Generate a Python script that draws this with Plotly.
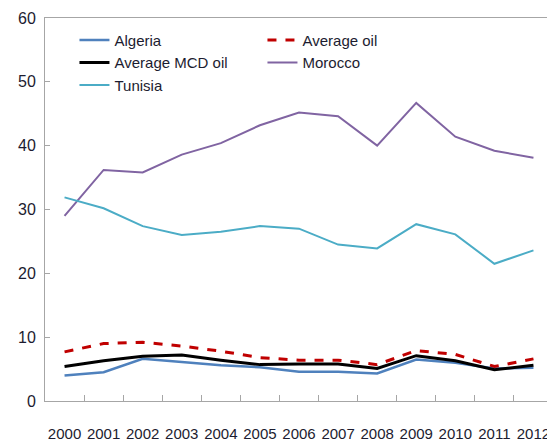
import plotly.graph_objects as go

years = [str(y) for y in range(2000, 2013)]

algeria = [4.0, 4.5, 6.6, 6.1, 5.6, 5.3, 4.6, 4.6, 4.3, 6.5, 6.0, 5.1, 5.2]
average_oil = [7.7, 9.0, 9.2, 8.6, 7.8, 6.8, 6.4, 6.4, 5.7, 7.9, 7.3, 5.4, 6.6]
average_mcd_oil = [5.4, 6.3, 7.0, 7.2, 6.4, 5.7, 5.8, 5.8, 5.1, 7.1, 6.3, 4.9, 5.6]
morocco = [29.0, 36.2, 35.8, 38.6, 40.4, 43.2, 45.2, 44.6, 40.0, 46.7, 41.4, 39.2, 38.1]
tunisia = [31.9, 30.2, 27.4, 26.0, 26.5, 27.4, 27.0, 24.5, 23.9, 27.7, 26.1, 21.5, 23.6]

FONT = "Liberation Sans, Arial, sans-serif"
TEXT = "#1c1c30"

# name, values, colour, width, dash
series = [
    ("Algeria", algeria, "#4f81bd", 2.5, "solid"),
    ("Average oil", average_oil, "#c00000", 3, "dash"),
    ("Average MCD oil", average_mcd_oil, "#000000", 3, "solid"),
    ("Morocco", morocco, "#8064a2", 2, "solid"),
    ("Tunisia", tunisia, "#4bacc6", 2, "solid"),
]

fig = go.Figure()
for name, values, colour, width, dash in series:
    fig.add_trace(go.Scatter(
        x=years, y=values, name=name, mode="lines",
        line={"color": colour, "width": width, "dash": dash},
    ))

# the page body adds an 8px offset, so the figure is sized to fill the rest
fig.update_layout(
    width=547, height=439,
    margin={"l": 37, "r": 2, "t": 7, "b": 46},
    paper_bgcolor="white", plot_bgcolor="white",
    font={"family": FONT, "size": 15, "color": TEXT},
    showlegend=True,
    legend={
        "orientation": "h", "x": 0.058, "y": 0.985, "xanchor": "left", "yanchor": "top",
        "entrywidth": 143, "entrywidthmode": "pixels",
        "itemwidth": 30, "tracegroupgap": 0,
        "font": {"family": FONT, "size": 15, "color": TEXT},
        "bgcolor": "rgba(0,0,0,0)",
    },
)
fig.update_xaxes(
    type="category", range=[-0.5, 12.5],
    showline=True, linecolor="#a6a6a6", linewidth=1, mirror=True,
    ticks="inside", ticklen=6, tickcolor="#a6a6a6", tickson="boundaries",
    showgrid=False, ticklabelstandoff=19, tickangle=0,
    tickfont={"size": 15},
)
fig.update_yaxes(
    range=[0, 60], dtick=10,
    showline=True, linecolor="#a6a6a6", linewidth=1,
    ticks="inside", ticklen=5, tickcolor="#a6a6a6",
    showgrid=False, zeroline=False, ticklabelstandoff=5,
    ticklabeloverflow="allow", tickfont={"size": 16},
)

fig.write_html("out.html")
